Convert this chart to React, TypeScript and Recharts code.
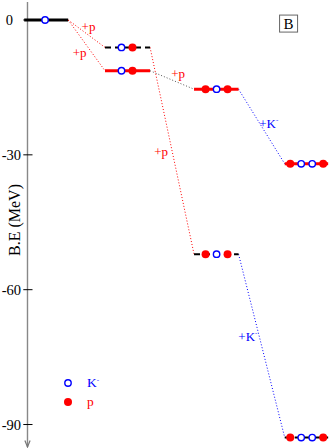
import { ComposedChart, Line, Scatter, XAxis, YAxis, ReferenceLine, ReferenceDot, Legend, Label } from "recharts"

const SERIF = '"Liberation Serif", "Times New Roman", serif'

// energy levels (B.E in MeV) and where each one sits on the reaction axis
const levelStart = [0, 7.35, 7.35, 15.45, 15.45, 23.7, 23.7]
const levelEnd = [4, 11.45, 11.45, 19.5, 19.5, 27.65, 27.65]
const levelEnergy = [0, -6.1, -11.3, -15.4, -52.1, -32.0, -92.9]
const levelKind = ["black", "dashed", "red", "red", "dashed", "red", "dashed"]

// particles drawn on each level
const kaonX = [1.9, 8.85, 8.85, 17.5, 17.5, 25.2, 26.2, 25.2, 26.2]
const kaonE = [0, -6.1, -11.3, -15.4, -52.1, -32.0, -32.0, -92.9, -92.9]
const protonX = [9.85, 9.85, 16.5, 18.5, 16.5, 18.5, 24.2, 27.2, 24.2, 27.2]
const protonE = [-6.1, -11.3, -15.4, -15.4, -52.1, -52.1, -32.0, -32.0, -92.9, -92.9]

// transitions between levels
const transFrom = [0, 0, 2, 1, 3, 4]
const transTo = [1, 2, 3, 4, 5, 6]
const transText = ["+p", "+p", "+p", "+p", "+K", "+K"]
const transTextX = [5.85, 5.05, 14.0, 12.45, 22.25, 20.35]
const transTextE = [-1.35, -7.3, -11.85, -29.3, -23.0, -70.5]
const transColor = ["#ff0000", "#ff0000", "#555555", "#ff0000", "#0000ff", "#0000ff"]

const yTicks = [0, -30, -60, -90]
const legendNames = ["K", "p"]

const levelStyle: Record<string, { stroke: string; strokeWidth: number; strokeDasharray?: string }> = {
  black: { stroke: "#000", strokeWidth: 3 },
  red: { stroke: "#ff0000", strokeWidth: 3 },
  dashed: { stroke: "#000", strokeWidth: 2, strokeDasharray: "6 4" },
}

const levels = levelEnergy.map((e, i) => [
  { x: levelStart[i], y: e },
  { x: levelEnd[i], y: e },
])

const transitions = transFrom.map((f, i) => [
  { x: levelEnd[f], y: levelEnergy[f] },
  { x: levelStart[transTo[i]], y: levelEnergy[transTo[i]] },
])

const kaons = kaonX.map((x, i) => ({ x, y: kaonE[i] }))
const protons = protonX.map((x, i) => ({ x, y: protonE[i] }))

const OpenCircle = (p: any) => (
  <circle cx={p.cx} cy={p.cy} r={3.2} fill="#fff" stroke="#0000ff" strokeWidth={1.4} />
)
const FullCircle = (p: any) => <circle cx={p.cx} cy={p.cy} r={4} fill="#ff0000" />

function YTick({ x, y, payload }: any) {
  const shift = payload.value === 0 ? -9 : -1
  return (
    <g>
      <line x1={x + 1.3} x2={x + 10.5} y1={y} y2={y} stroke="#000" strokeWidth={1} />
      <text x={x + shift} y={y} dy={5} textAnchor="end" fontFamily={SERIF} fontSize={14.5} fill="#000">
        {payload.value}
      </text>
    </g>
  )
}

function YTitle({ viewBox }: any) {
  const cx = viewBox.x + 15
  const cy = viewBox.y + viewBox.height / 2 - 4.5
  return (
    <text x={cx} y={cy} dy={5} textAnchor="middle" transform={`rotate(-90, ${cx}, ${cy})`} fontFamily={SERIF} fontSize={16} fill="#000">
      B.E (MeV)
    </text>
  )
}

function TransLabel(text: string, color: string) {
  return (p: any) => (
    <text x={p.cx} y={p.cy} dy={4.5} textAnchor="middle" fontFamily={SERIF} fontSize={13} fill={color}>
      {text}
      {text.includes("K") && (
        <tspan fontSize={7} dy={-6}>-</tspan>
      )}
    </text>
  )
}

const PanelTag = (p: any) => (
  <g>
    <rect x={p.cx - 9} y={p.cy - 8.5} width={18} height={17} fill="#fff" stroke="#666" strokeWidth={1} />
    <text x={p.cx} y={p.cy} dy={5} textAnchor="middle" fontFamily={SERIF} fontSize={15} fill="#000">B</text>
  </g>
)

const AxisArrow = (p: any) => (
  <path d={`M${p.cx - 2.6},${p.cy - 6.5} L${p.cx},${p.cy} L${p.cx + 2.6},${p.cy - 6.5}`} fill="none" stroke="#777" strokeWidth={1.2} />
)

function LegendBox() {
  return (
    <div style={{ fontFamily: SERIF, fontSize: 13.5 }}>
      {legendNames.map((name, i) => (
        <div key={name} style={{ display: "flex", alignItems: "center", height: 18.5 }}>
          <svg width={12} height={12} style={{ marginRight: 13 }}>
            {i === 0 ? (
              <circle cx={6} cy={6} r={3.2} fill="#fff" stroke="#0000ff" strokeWidth={1.4} />
            ) : (
              <circle cx={6} cy={6} r={4} fill="#ff0000" />
            )}
          </svg>
          <span style={{ color: i === 0 ? "#0000ff" : "#ff0000" }}>
            {name}
            {i === 0 && <sup style={{ fontSize: 7 }}>-</sup>}
          </span>
        </div>
      ))}
    </div>
  )
}

export default function App() {
  return (
    <div style={{ position: "absolute", left: 0, top: 0, background: "#fff" }}>
      <ComposedChart width={332} height={448} margin={{ top: 2, right: 0, bottom: 1, left: 0 }}>
        <XAxis type="number" dataKey="x" domain={[-0.2, 28]} hide />
        <YAxis
          type="number"
          dataKey="y"
          domain={[-95, 4]}
          ticks={yTicks}
          width={22}
          axisLine={false}
          tickLine={false}
          tickSize={0}
          tickMargin={0}
          tick={<YTick />}
        >
          <Label content={<YTitle />} />
        </YAxis>
        <ReferenceLine x={0.3} stroke="#888" strokeWidth={1.4} />
        <ReferenceDot x={0.3} y={-95} r={0} shape={AxisArrow} />

        {transitions.map((d, i) => (
          <Line
            key={`t${i}`}
            data={d}
            dataKey="y"
            stroke={transColor[i]}
            strokeWidth={1}
            strokeDasharray="1 2"
            dot={false}
            activeDot={false}
            isAnimationActive={false}
          />
        ))}
        {levels.map((d, i) => (
          <Line
            key={`l${i}`}
            data={d}
            dataKey="y"
            {...levelStyle[levelKind[i]]}
            dot={false}
            activeDot={false}
            isAnimationActive={false}
          />
        ))}
        <Scatter data={kaons} dataKey="y" shape={OpenCircle} isAnimationActive={false} />
        <Scatter data={protons} dataKey="y" shape={FullCircle} isAnimationActive={false} />

        {transText.map((t, i) => (
          <ReferenceDot key={`lab${i}`} x={transTextX[i]} y={transTextE[i]} r={0} shape={TransLabel(t, transColor[i] === "#555555" ? "#ff0000" : transColor[i])} />
        ))}
        <ReferenceDot x={24.05} y={-0.8} r={0} shape={PanelTag} />

        <Legend
          layout="vertical"
          align="center"
          verticalAlign="middle"
          content={<LegendBox />}
          wrapperStyle={{ left: 62, top: 374, width: "auto", height: "auto" }}
        />
      </ComposedChart>
    </div>
  )
}
